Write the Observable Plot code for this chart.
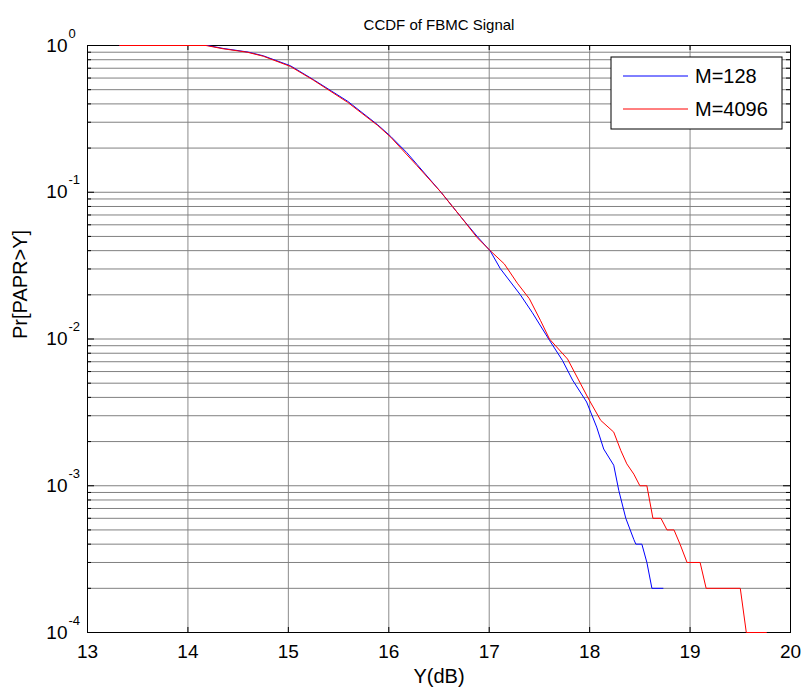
<!DOCTYPE html>
<html><head><meta charset="utf-8">
<script src="https://cdn.jsdelivr.net/npm/d3@7"></script>
<script src="https://cdn.jsdelivr.net/npm/@observablehq/plot@0.6"></script>
<style>body{margin:0;background:#fff}#chart{width:805px;height:695px}</style>
</head><body><div id="chart"></div><script>
// Series M=128 (blue)
const x128 = [13.32, 14.2, 14.35, 14.6, 14.75, 15.02, 15.25, 15.59, 15.89, 16.02, 16.18, 16.28, 16.52, 16.72, 16.88, 17.01, 17.11, 17.31, 17.43, 17.60, 17.73, 17.83, 17.97, 18.07, 18.14, 18.24, 18.29, 18.36, 18.44, 18.46, 18.52, 18.57, 18.62, 18.73];
const p128 = [1, 1, 0.955, 0.902, 0.851, 0.728, 0.585, 0.417, 0.288, 0.240, 0.186, 0.155, 0.1, 0.0676, 0.050, 0.0398, 0.0302, 0.020, 0.0151, 0.0098, 0.00713, 0.00525, 0.00372, 0.00251, 0.00178, 0.00138, 0.00093, 0.0006, 0.00043, 0.0004, 0.0004, 0.0003, 0.0002, 0.0002];
// Series M=4096 (red)
const x4096 = [13.32, 14.18, 14.35, 14.59, 14.75, 15.02, 15.25, 15.59, 15.89, 16.02, 16.28, 16.52, 16.72, 16.88, 17.01, 17.15, 17.28, 17.40, 17.51, 17.60, 17.78, 17.99, 18.11, 18.24, 18.31, 18.37, 18.44, 18.50, 18.57, 18.63, 18.71, 18.77, 18.84, 18.90, 18.97, 19.10, 19.16, 19.50, 19.56, 19.76];
const p4096 = [1, 1, 0.95, 0.90, 0.845, 0.72, 0.58, 0.41, 0.285, 0.237, 0.152, 0.1, 0.0676, 0.049, 0.040, 0.0325, 0.024, 0.0188, 0.0134, 0.010, 0.0073, 0.0039, 0.00279, 0.00232, 0.00174, 0.00141, 0.0012, 0.001, 0.001, 0.0006, 0.0006, 0.0005, 0.0005, 0.0004, 0.0003, 0.0003, 0.0002, 0.0002, 0.0001, 0.0001];

const seriesNames = ["M=128", "M=4096"];
const seriesColors = ["#0000ff", "#ff0000"];
const xTicks = [13, 14, 15, 16, 17, 18, 19, 20];
const yMajor = [1, 0.1, 0.01, 0.001, 0.0001];
const yExp = ["0", "-1", "-2", "-3", "-4"];
const mantissas = [2, 3, 4, 5, 6, 7, 8, 9];
const yMinor = [];
for (const m of yMajor.slice(1)) for (const k of mantissas) yMinor.push(m * k);
const yGrid = yMajor.concat(yMinor);

const titleText = "CCDF of FBMC Signal";
const xLabel = "Y(dB)";
const yLabel = "Pr[PAPR>Y]";

const rows128 = x128.map((x, i) => ({x, p: p128[i]}));
const rows4096 = x4096.map((x, i) => ({x, p: p4096[i]}));

const FONT = "'Liberation Sans', Arial, Helvetica, sans-serif";
const frameW = 805 - 87 - 15, frameH = 695 - 45 - 63;

const plot = Plot.plot({
  width: 805, height: 695,
  marginLeft: 87, marginRight: 15, marginTop: 45, marginBottom: 63,
  style: {fontFamily: FONT, background: "#fff", color: "#000", overflow: "visible"},
  x: {domain: [13, 20], label: null},
  y: {type: "log", domain: [1e-4, 1], axis: null},
  marks: [
    Plot.ruleX(xTicks.slice(1, -1), {stroke: "#8c8c8c", strokeWidth: 1}),
    Plot.ruleY(yGrid, {stroke: "#808080", strokeWidth: 1}),
    Plot.frame({stroke: "#000", strokeWidth: 1}),
    Plot.ruleX(xTicks, {insetTop: frameH - 5, stroke: "#000"}),
    Plot.ruleX(xTicks, {insetBottom: frameH - 5, stroke: "#000"}),
    Plot.ruleY(yMajor, {insetRight: frameW - 7, stroke: "#000"}),
    Plot.ruleY(yMajor, {insetLeft: frameW - 7, stroke: "#000"}),
    Plot.ruleY(yMinor, {insetRight: frameW - 4, stroke: "#000"}),
    Plot.ruleY(yMinor, {insetLeft: frameW - 4, stroke: "#000"}),
    Plot.line(rows128, {x: "x", y: "p", stroke: seriesColors[0], strokeWidth: 1}),
    Plot.line(rows4096, {x: "x", y: "p", stroke: seriesColors[1], strokeWidth: 1}),
    Plot.axisX(xTicks, {tickSize: 0, tickPadding: 12, fontSize: 19, label: null, tickFormat: d => String(d)}),
    Plot.text(yMajor, {y: d => d, frameAnchor: "left", dx: -20, textAnchor: "end", text: () => "10", fontSize: 19}),
    Plot.text(yMajor, {y: d => d, frameAnchor: "left", dx: -19, dy: -12, textAnchor: "start", text: (d, i) => yExp[i], fontSize: 13}),
    Plot.text([xLabel], {frameAnchor: "bottom", dy: 50, text: d => d, fontSize: 20}),
    Plot.text([yLabel], {frameAnchor: "left", dx: -67, rotate: -90, text: d => d, fontSize: 20}),
    Plot.text([titleText], {frameAnchor: "top", dy: -26, text: d => d, fontSize: 15})
  ]
});
document.getElementById("chart").appendChild(plot);

// Legend box (layout only)
const svg = d3.select(plot);
const lg = svg.append("g").attr("font-family", FONT).attr("text-anchor", "start");
lg.append("rect").attr("x", 611).attr("y", 57).attr("width", 171).attr("height", 72)
  .attr("fill", "#fff").attr("stroke", "#000").attr("stroke-width", 1);
seriesNames.forEach((name, i) => {
  const y = 76 + i * 33;
  lg.append("line").attr("x1", 623).attr("x2", 688).attr("y1", y).attr("y2", y)
    .attr("stroke", seriesColors[i]).attr("stroke-width", 1);
  lg.append("text").attr("x", 695).attr("y", y).attr("dy", "0.35em")
    .attr("text-anchor", "start").attr("font-size", 20).attr("fill", "#000").text(name);
});
</script></body></html>
